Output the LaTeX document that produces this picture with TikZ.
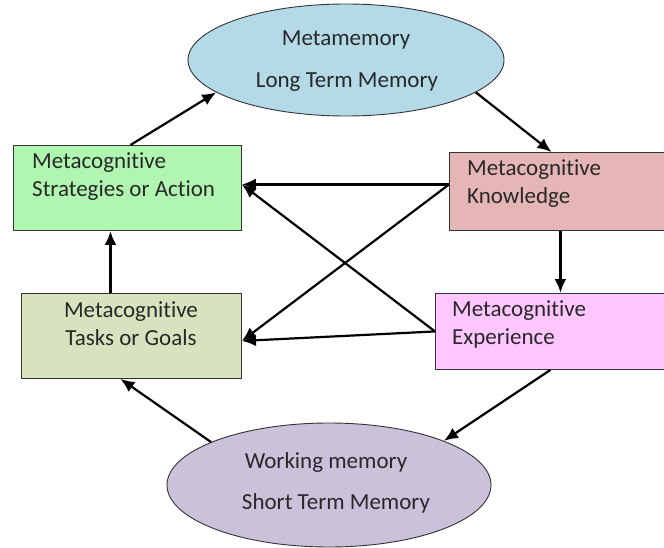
\documentclass[tikz,border=0pt]{standalone}
\usepackage{fontspec}
\setmainfont[Ligatures=NoCommon]{Carlito}
\usetikzlibrary{shapes.geometric,arrows.meta,calc}
\definecolor{cTop}{RGB}{180,218,232}
\definecolor{cStrat}{RGB}{176,245,176}
\definecolor{cKnow}{RGB}{230,182,182}
\definecolor{cTask}{RGB}{215,227,190}
\definecolor{cExp}{RGB}{255,198,255}
\definecolor{cBot}{RGB}{204,193,218}
\definecolor{cTxt}{RGB}{40,40,40}
\tikzset{
  box/.style={draw=black!80, line width=0.9pt, inner sep=0pt, anchor=north west},
  oval/.style={ellipse, draw=black!80, line width=0.9pt, inner sep=0pt},
  lbl/.style={text=cTxt, font=\fontsize{23}{26}\selectfont, inner sep=0pt},
  arr/.style={-{Latex[length=14pt,width=12pt]}, line width=2.2pt, black},
  tarr/.style={-{Latex[length=14pt,width=12pt]}, line width=3pt, black},
}
\begin{document}
\begin{tikzpicture}[x=1pt,y=-1pt]
\useasboundingbox (0,0) rectangle (664,548);
% ellipses
\node[oval, fill=cTop, minimum width=316pt, minimum height=112pt] (top) at (346,60) {};
\node[lbl] (topa) at (346,40) {Metamemory};
\node[lbl] (topb) at (347,82) {Long Term Memory};
\node[oval, fill=cBot, minimum width=324pt, minimum height=124pt] (bot) at (329,485) {};
\node[lbl] (bota) at (326,462) {Working memory};
\node[lbl] (botb) at (336,503) {Short Term Memory};
% boxes
\node[box, fill=cStrat, minimum width=228pt, minimum height=85pt] (strat) at (13,145) {};
\node[lbl, anchor=west] (strata) at (32,163) {Metacognitive};
\node[lbl, anchor=west] (stratb) at (32,191) {Strategies or Action};
\node[box, fill=cKnow, minimum width=216pt, minimum height=78pt] (knw) at (449,152) {};
\node[lbl, anchor=west] (knwa) at (467,170) {Metacognitive};
\node[lbl, anchor=west] (knwb) at (467,197) {Knowledge};
\node[box, fill=cTask, minimum width=220pt, minimum height=85pt] (task) at (21,293) {};
\node[lbl] (taska) at (131,312) {Metacognitive};
\node[lbl] (taskb) at (131,338) {Tasks or Goals};
\node[box, fill=cExp, minimum width=230pt, minimum height=76pt] (exp) at (435,293) {};
\node[lbl, anchor=west] (expa) at (452,311) {Metacognitive};
\node[lbl, anchor=west] (expb) at (452,338) {Experience};
% connectors
\coordinate (kw) at ([yshift=7pt]knw.west);
\coordinate (te) at ([yshift=-5pt]task.east);
\draw[arr] ([xshift=3pt]strat.north) -- (top.194);
\draw[arr] (top.346) -- ([xshift=-6pt]knw.north);
\draw[tarr] ([xshift=3pt]knw.south) -- ([xshift=3pt]knw.south |- exp.north);
\draw[tarr] ([xshift=-21pt]task.north) -- ([xshift=-21pt]task.north |- strat.south);
\draw[arr] (exp.south) -- (bot.21);
\draw[arr] (bot.160) -- ([xshift=-11pt]task.south);
\draw[arr] (kw) -- (kw -| strat.east);
\draw[arr] (kw) -- (te);
\draw[arr] (exp.west) -- (kw -| strat.east);
\draw[arr] (exp.west) -- (te);
\end{tikzpicture}
\end{document}
